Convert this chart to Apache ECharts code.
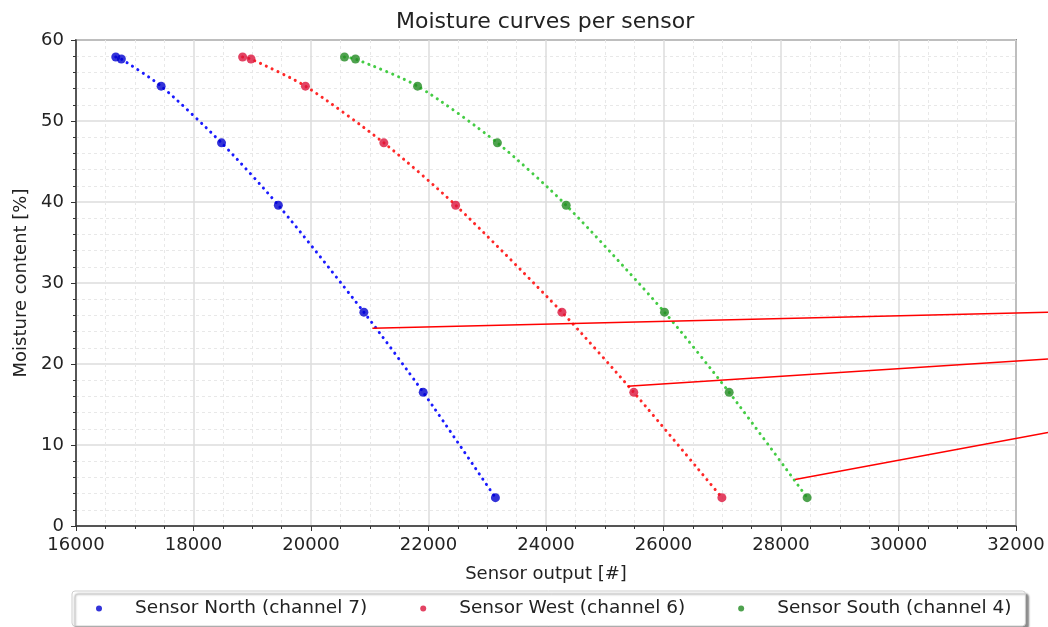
<!DOCTYPE html>
<html>
<head>
<meta charset="utf-8">
<script src="https://cdn.jsdelivr.net/npm/echarts@6/dist/echarts.min.js"></script>
<style>
  html, body { margin: 0; padding: 0; background: #fff; }
  #chart { width: 1048px; height: 627px; }
</style>
</head>
<body>
<div id="chart"></div>
<script>
// moisture levels (same for every sensor)
const moisture = [57.9, 57.65, 54.3, 47.3, 39.6, 26.4, 16.5, 3.5];
const northOutput = [16677, 16772, 17449, 18477, 19444, 20900, 21910, 23139];
const westOutput = [18836, 18979, 19905, 21240, 22462, 24271, 25494, 26994];
const southOutput = [20570, 20757, 21814, 23173, 24343, 26017, 27118, 28445];

// red pointer lines that run off the plot to the right edge of the picture
const pointer1 = [[21053, 24.4], [32573, 26.4]];
const pointer2 = [[25402, 17.25], [32573, 20.62]];
const pointer3 = [[28259, 5.73], [32573, 11.53]];

const sensors = [
  { name: "Sensor North (channel 7)", x: northOutput, dot: "#0000d0", fit: "#1a1aff" },
  { name: "Sensor West (channel 6)", x: westOutput, dot: "#dc143c", fit: "#ff2828" },
  { name: "Sensor South (channel 4)", x: southOutput, dot: "#228b22", fit: "#44cc44" },
];

const font = "DejaVu Sans";
const pairs = (xs) => xs.map((x, i) => [x, moisture[i]]);

const series = [];
sensors.forEach((s) => {
  series.push({
    name: s.name + " fit",
    type: "line",
    data: pairs(s.x),
    smooth: 0.25,
    showSymbol: false,
    silent: true,
    lineStyle: { color: s.fit, width: 3, type: [0.1, 6.3], cap: "round" },
    z: 2,
  });
});
sensors.forEach((s) => {
  series.push({
    name: s.name,
    type: "scatter",
    data: pairs(s.x),
    symbolSize: 9,
    itemStyle: { color: s.dot },
    z: 3,
  });
});
// second, hidden grid that reaches the right edge of the canvas
[pointer1, pointer2, pointer3].forEach((p) => {
  series.push({
    type: "line",
    xAxisIndex: 1,
    yAxisIndex: 1,
    data: p,
    showSymbol: false,
    silent: true,
    lineStyle: { color: "#ff0000", width: 1.5 },
    z: 4,
  });
});

const axisCommon = {
  axisLine: { show: true, lineStyle: { color: "#333", width: 1.5 } },
  axisTick: { show: true, length: 5, lineStyle: { color: "#333" } },
  splitLine: { show: true, lineStyle: { color: "#dcdcdc", width: 1.5 } },
  minorSplitLine: { show: true, lineStyle: { color: "#e8e8e8", type: [3, 3], width: 1 } },
  nameTextStyle: { fontFamily: font, fontSize: 18, color: "#222" },
};

const chart = echarts.init(document.getElementById("chart"));
chart.setOption({
  animation: false,
  textStyle: { fontFamily: font },
  title: {
    text: "Moisture curves per sensor",
    left: 391,
    top: 6,
    textStyle: { fontFamily: font, fontSize: 22, fontWeight: "normal", color: "#222" },
  },
  grid: [
    {
      left: 76, right: 32, top: 40, bottom: 101,
      show: true, borderColor: "#333", borderWidth: 1.5, backgroundColor: "#fff",
    },
    { left: 76, right: 0, top: 40, bottom: 101 },
  ],
  legend: {
    data: sensors.map((s) => s.name),
    left: 72,
    top: 591,
    icon: "circle",
    itemWidth: 30,
    itemHeight: 6,
    itemGap: 53,
    padding: [8, 14, 8, 24],
    borderColor: "#cfcfcf",
    borderWidth: 1,
    borderRadius: 3,
    backgroundColor: "#fff",
    shadowColor: "rgba(0,0,0,0.45)",
    shadowBlur: 2,
    shadowOffsetX: 3,
    shadowOffsetY: 3,
    textStyle: { fontFamily: font, fontSize: 18.5, color: "#222", padding: [0, 0, 0, 16] },
  },
  xAxis: [
    Object.assign({}, axisCommon, {
      type: "value",
      min: 16000, max: 32000, interval: 2000,
      name: "Sensor output [#]",
      nameLocation: "middle",
      nameGap: 39,
      minorTick: { show: true, splitNumber: 4, length: 3, lineStyle: { color: "#333" } },
      axisLabel: { fontFamily: font, fontSize: 18, color: "#222", margin: 10, formatter: (v) => String(v) },
    }),
    { type: "value", gridIndex: 1, min: 16000, max: 32573, show: false },
  ],
  yAxis: [
    Object.assign({}, axisCommon, {
      type: "value",
      min: 0, max: 60, interval: 10,
      name: "Moisture content [%]",
      nameLocation: "middle",
      nameGap: 46,
      minorTick: { show: true, splitNumber: 5, length: 3, lineStyle: { color: "#333" } },
      axisLabel: { fontFamily: font, fontSize: 18, color: "#222", margin: 12 },
    }),
    { type: "value", gridIndex: 1, min: 0, max: 60, show: false },
  ],
  series: series,
});
</script>
</body>
</html>
